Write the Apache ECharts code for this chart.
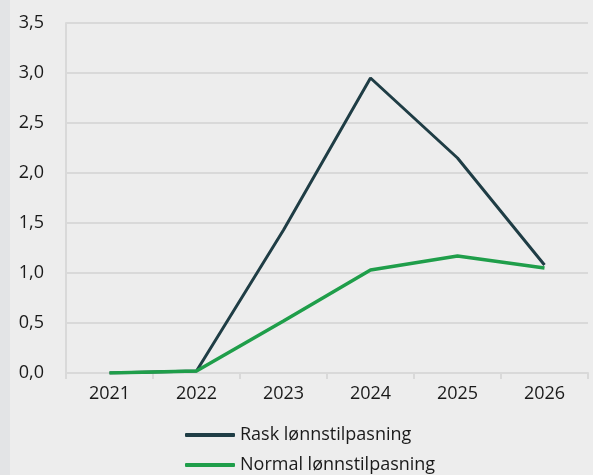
<!DOCTYPE html>
<html><head><meta charset="utf-8">
<script src="https://cdn.jsdelivr.net/npm/echarts@6/dist/echarts.min.js"></script>
<style>html,body{margin:0;padding:0;background:#ededed;}#strip{position:absolute;left:0;top:0;width:10px;height:475px;background:#e3e4e6;}#c{width:593px;height:475px;}</style>
</head><body><div id="strip"></div><div id="c"></div>
<script>
const years = ['2021','2022','2023','2024','2025','2026'];
const rask = [0.0, 0.02, 1.43, 2.95, 2.15, 1.08];
const normal = [0.0, 0.02, 0.52, 1.03, 1.17, 1.05];
const seriesNames = ['Rask lønnstilpasning','Normal lønnstilpasning'];
const chart = echarts.init(document.getElementById('c'), null, {renderer:'canvas'});
const font = "'Open Sans', 'Noto Sans', sans-serif";
const legendBase = {
  orient: 'horizontal', left: 185, itemGap: 5,
  itemWidth: 50, itemHeight: 4, icon: 'roundRect', padding: 0,
  textStyle: {fontFamily: font, fontSize: 18, color: '#1a1a1a', padding: [0,0,0,0]}
};
chart.setOption({
  backgroundColor: 'transparent',
  animation: false,
  grid: {left: 66, right: 5, top: 23, bottom: 102, containLabel: false},
  legend: [
    Object.assign({}, legendBase, {top: 426, data: [seriesNames[0]]}),
    Object.assign({}, legendBase, {top: 456, data: [seriesNames[1]]})
  ],
  xAxis: {
    type: 'category', data: years, boundaryGap: true,
    axisLine: {show: true, lineStyle: {color: '#d9d9d9', width: 2}},
    axisTick: {show: true, length: 6, lineStyle: {color: '#d9d9d9', width: 2}},
    axisLabel: {fontFamily: font, fontSize: 18, color: '#1a1a1a', margin: 12}
  },
  yAxis: {
    type: 'value', min: 0, max: 3.5, interval: 0.5,
    axisLine: {show: true, lineStyle: {color: '#d9d9d9', width: 2}},
    axisTick: {show: false},
    splitLine: {lineStyle: {color: '#d9d9d9', width: 2}},
    axisLabel: {fontFamily: font, fontSize: 18, color: '#1a1a1a', margin: 22,
      formatter: v => v.toFixed(1).replace('.', ',')}
  },
  series: [
    {name: seriesNames[0], type: 'line', data: rask, symbol: 'none',
     lineStyle: {color: '#1f3d45', width: 3}, itemStyle: {color: '#1f3d45'}},
    {name: seriesNames[1], type: 'line', data: normal, symbol: 'none',
     lineStyle: {color: '#1f9e4a', width: 3.5}, itemStyle: {color: '#1f9e4a'}}
  ]
});
</script></body></html>
